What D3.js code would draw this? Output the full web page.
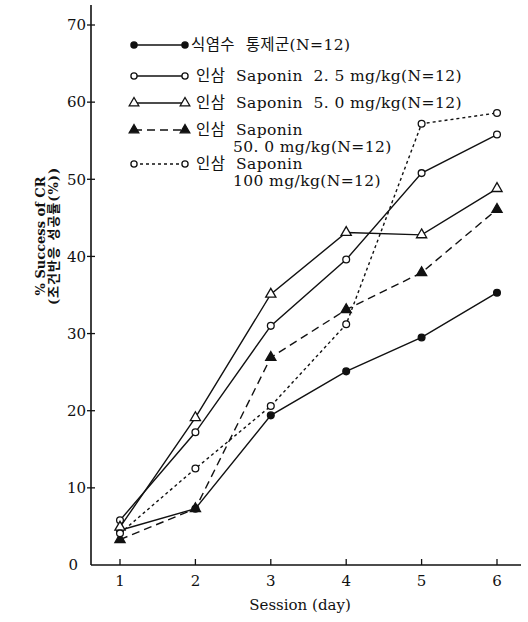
<!DOCTYPE html>
<html>
<head>
<meta charset="utf-8">
<script src="https://cdn.jsdelivr.net/npm/d3@7"></script>
<style>
  body { margin: 0; background: #fff; }
  text { font-family: "DejaVu Serif", "Liberation Serif", "Noto Sans CJK KR", serif; fill: #111; }
</style>
</head>
<body>
<script>
// data
const sessions = [1, 2, 3, 4, 5, 6]
const saline = [4.5, 7.3, 19.4, 25.1, 29.5, 35.3]
const sap25 = [5.8, 17.2, 31.0, 39.6, 50.8, 55.8]
const sap5 = [4.9, 19.1, 35.1, 43.1, 42.8, 48.8]
const sap50 = [3.3, 7.3, 26.9, 33.1, 37.9, 46.1]
const sap100 = [4.1, 12.5, 20.6, 31.2, 57.2, 58.6]
const yTicks = [0, 10, 20, 30, 40, 50, 60, 70]
const legendLines = [
  ['식염수  통제군(N=12)'],
  ['인삼  Saponin  2. 5 mg/kg(N=12)'],
  ['인삼  Saponin  5. 0 mg/kg(N=12)'],
  ['인삼  Saponin', '50. 0 mg/kg(N=12)'],
  ['인삼  Saponin', '100 mg/kg(N=12)']
]

// series styles
const series = [
  {values: saline, symbol: d3.symbolCircle, fill: '#111', dash: null},
  {values: sap25, symbol: d3.symbolCircle, fill: '#fff', dash: null},
  {values: sap5, symbol: d3.symbolTriangle, fill: '#fff', dash: null},
  {values: sap50, symbol: d3.symbolTriangle, fill: '#111', dash: '8,5'},
  {values: sap100, symbol: d3.symbolCircle, fill: '#fff', dash: '3,3'}
]

const width = 528, height = 622

const svg = d3.select('body').append('svg')
  .attr('width', width)
  .attr('height', height)

const x = d3.scaleLinear().domain([1, 6]).range([120, 497])
const y = d3.scaleLinear().domain([0, 70]).range([565, 25])

// axes lines
svg.append('line')
  .attr('x1', 91).attr('x2', 91)
  .attr('y1', y(72.6)).attr('y2', y(0))
  .attr('stroke', '#111').attr('stroke-width', 1.6)
svg.append('line')
  .attr('x1', 91).attr('x2', 521)
  .attr('y1', y(0)).attr('y2', y(0))
  .attr('stroke', '#111').attr('stroke-width', 1.6)

// y ticks
const yAxis = svg.append('g')
yAxis.selectAll('.ytick')
  .data(yTicks.filter(d => d > 0))
  .enter().append('line')
  .attr('x1', 87).attr('x2', 95)
  .attr('y1', d => y(d)).attr('y2', d => y(d))
  .attr('stroke', '#111').attr('stroke-width', 1.3)
yAxis.selectAll('.ylab')
  .data(yTicks)
  .enter().append('text')
  .attr('x', d => d === 0 ? 78 : 86)
  .attr('y', d => y(d))
  .attr('dy', '0.35em')
  .attr('text-anchor', 'end')
  .style('font-size', '15px')
  .text(d => d)

// x ticks
const xAxis = svg.append('g')
xAxis.selectAll('.xtick')
  .data(sessions)
  .enter().append('line')
  .attr('x1', d => x(d)).attr('x2', d => x(d))
  .attr('y1', y(0) - 6).attr('y2', y(0))
  .attr('stroke', '#111').attr('stroke-width', 1.3)
xAxis.selectAll('.xlab')
  .data(sessions)
  .enter().append('text')
  .attr('x', d => x(d))
  .attr('y', 586)
  .attr('text-anchor', 'middle')
  .style('font-size', '15px')
  .text(d => d)

svg.append('text')
  .attr('x', 300).attr('y', 610)
  .attr('text-anchor', 'middle')
  .style('font-size', '15px')
  .text('Session (day)')

// y label (two rotated lines)
const ylab = svg.append('g')
  .attr('transform', 'translate(0,236) rotate(-90)')
ylab.append('text')
  .attr('x', 0).attr('y', 45)
  .attr('text-anchor', 'middle')
  .style('font-size', '13px')
  .style('font-weight', 'bold')
  .text('% Success of CR')
ylab.append('text')
  .attr('x', 0).attr('y', 58)
  .attr('text-anchor', 'middle')
  .style('font-size', '13px')
  .style('font-weight', 'bold')
  .style('letter-spacing', '1px')
  .text('(조건반응 성공률(%))')

// lines
const line = d3.line()
  .x((d, i) => x(sessions[i]))
  .y(d => y(d))

series.forEach(s => {
  svg.append('path')
    .datum(s.values)
    .attr('d', line)
    .attr('fill', 'none')
    .attr('stroke', '#111')
    .attr('stroke-width', 1.4)
    .attr('stroke-dasharray', s.dash)

  svg.selectAll(null)
    .data(s.values)
    .enter().append('path')
    .attr('transform', (d, i) => 'translate(' + x(sessions[i]) + ',' + y(d) + ')')
    .attr('d', d3.symbol().type(s.symbol).size(s.symbol === d3.symbolTriangle ? 45 : 36))
    .attr('fill', s.fill)
    .attr('stroke', '#111')
    .attr('stroke-width', 1.3)
})

// legend
const rowY = [45, 76, 103, 130, 164]
const legend = svg.append('g')
series.forEach((s, i) => {
  const g = legend.append('g').attr('transform', 'translate(0,' + rowY[i] + ')')
  g.append('line')
    .attr('x1', 134).attr('x2', 185)
    .attr('stroke', '#111').attr('stroke-width', 1.4)
    .attr('stroke-dasharray', s.dash)
  ;[134, 185].forEach(px => {
    g.append('path')
      .attr('transform', 'translate(' + px + ',0)')
      .attr('d', d3.symbol().type(s.symbol).size(s.symbol === d3.symbolTriangle ? 40 : 30))
      .attr('fill', s.fill)
      .attr('stroke', '#111')
      .attr('stroke-width', 1.3)
  })
  legendLines[i].forEach((t, j) => {
    g.append('text')
      .attr('x', j === 0 ? (i === 0 ? 191 : 196) : 233)
      .attr('y', j * 17)
      .attr('dy', '0.35em')
      .attr('xml:space', 'preserve')
      .style('white-space', 'pre')
      .style('font-size', '15.5px')
      .style('letter-spacing', '0.4px')
      .text(t)
  })
})
</script>
</body>
</html>
